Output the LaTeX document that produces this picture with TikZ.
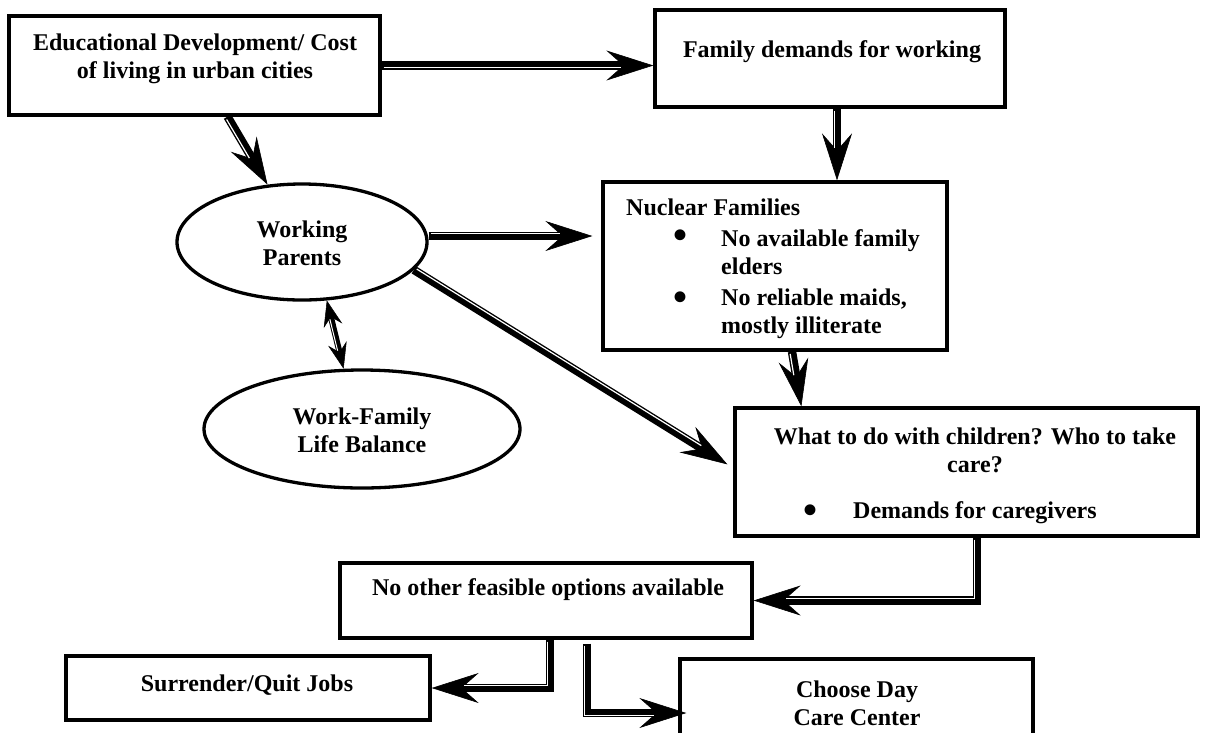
\documentclass[tikz,border=0pt]{standalone}
\usepackage{fontspec}
\setmainfont{Liberation Serif}
\usetikzlibrary{arrows.meta,shapes.geometric,calc}
\newcommand{\bigbul}{{\fontsize{40}{28}\selectfont\textbullet}}
\begin{document}
\begin{tikzpicture}[x=1pt,y=-1pt,
  box/.style={draw, line width=3.3pt, rectangle, inner sep=0pt},
  oval/.style={draw, line width=3.3pt, ellipse, inner sep=0pt},
  txt/.style={font=\fontsize{24}{28}\selectfont\bfseries, align=center, inner sep=0pt},
  dar/.style={line width=8.4pt, -{Stealth[length=47pt,width=30pt,inset=17pt,line width=0.6pt]}},
  sar/.style={line width=6pt, {Stealth[length=26pt,width=19pt,inset=9pt,line width=0.5pt]}-{Stealth[length=26pt,width=19pt,inset=9pt,line width=0.5pt]}},
  gap/.style={white, line width=1.2pt, shorten >=32pt, shorten <=2pt},
  sgap/.style={white, line width=1pt, shorten >=19pt, shorten <=19pt}]
\useasboundingbox (0,0) rectangle (1207,732);
\clip (0,0) rectangle (1207,732);

% boxes
\node[box, minimum width=371pt, minimum height=99pt] (b1) at (194.5,65.5) {};
\node[box, minimum width=350pt, minimum height=97pt] (b2) at (830,58.5) {};
\node[box, minimum width=344pt, minimum height=168pt] (b3) at (775,266) {};
\node[box, minimum width=463pt, minimum height=128pt] (b4) at (966.5,472) {};
\node[box, minimum width=412pt, minimum height=75pt] (b5) at (546,600.5) {};
\node[box, minimum width=364pt, minimum height=64pt] (b6) at (248,688) {};
\node[box, minimum width=353pt, minimum height=108pt] (b7) at (856.5,713) {};
\node[oval, minimum width=250pt, minimum height=116pt] (e1) at (302,242) {};
\node[oval, minimum width=316pt, minimum height=118pt] (e2) at (362,429) {};

% texts
\node[txt] (t1) at (195,59) {Educational Development/ Cost\\of living in urban cities};
\node[txt] (t2) at (832,52) {Family demands for working};
\node[txt, anchor=west] (t3) at (626,207) {Nuclear Families};
\node[txt] (t3b1) at (680,239) {\bigbul};
\node[txt, anchor=west, align=left] (t3i1) at (721,252) {No available family\\elders};
\node[txt] (t3b2) at (680,301) {\bigbul};
\node[txt, anchor=west, align=left] (t3i2) at (721,314) {No reliable maids,\\mostly illiterate};
\node[txt] (t4) at (975,450) {What to do with children? Who to take\\care?};
\node[txt] (t4b) at (810,514) {\bigbul};
\node[txt, anchor=west] (t4i) at (853,513) {Demands for caregivers};
\node[txt] (t5) at (548,590) {No other feasible options available};
\node[txt] (t6) at (247,685) {Surrender/Quit Jobs};
\node[txt] (t7) at (857,703) {Choose Day\\Care Center};
\node[txt] (te1) at (302,243) {Working\\Parents};
\node[txt] (te2) at (362,430) {Work-Family\\Life Balance};

% A1
\coordinate (a1s) at (b1.east);
\coordinate (a1e) at (a1s -| b2.west);
\draw[dar] (a1s) -- (a1e);
\draw[gap] ($(a1s)!2.2pt!-90:(a1e)$) -- ($(a1e)!2.2pt!90:(a1s)$);
% A2
\coordinate (a2s) at ([xshift=7pt]b2.south);
\coordinate (a2e) at (a2s |- b3.north);
\draw[dar] (a2s) -- (a2e);
\draw[gap] ($(a2s)!2.2pt!-90:(a2e)$) -- ($(a2e)!2.2pt!90:(a2s)$);
% A3
\coordinate (a3s) at ([xshift=33pt]b1.south);
\coordinate (a3e) at (e1.121);
\draw[dar] (a3s) -- (a3e);
\draw[gap] ($(a3s)!2.2pt!-90:(a3e)$) -- ($(a3e)!2.2pt!90:(a3s)$);
% A4
\coordinate (a4s) at ([yshift=6pt]e1.east);
\coordinate (a4x) at (a4s -| b3.west);
\coordinate (a4e) at ([xshift=-9pt]a4x);
\draw[dar] (a4s) -- (a4e);
\draw[gap] ($(a4s)!2.2pt!90:(a4e)$) -- ($(a4e)!2.2pt!-90:(a4s)$);
% A5
\coordinate (a5s) at (e1.-14);
\coordinate (a5e) at ([xshift=-6pt,yshift=-58pt]b4.north west);
\draw[dar] (a5s) -- (a5e);
\draw[gap] ($(a5s)!2.2pt!90:(a5e)$) -- ($(a5e)!2.2pt!-90:(a5s)$);
% A6
\coordinate (a6s) at (e1.-67);
\coordinate (a6e) at (e2.107);
\draw[sar] (a6s) -- (a6e);
\draw[sgap] ($(a6s)!1.5pt!-90:(a6e)$) -- ($(a6e)!1.5pt!90:(a6s)$);
% A7
\coordinate (a7s) at ([xshift=17pt]b3.south);
\coordinate (a7e) at ([xshift=68pt]b4.north west);
\draw[dar] (a7s) -- (a7e);
\draw[gap] ($(a7s)!2.2pt!-90:(a7e)$) -- ($(a7e)!2.2pt!90:(a7s)$);
% A8
\coordinate (a8s) at ([xshift=10.5pt]b4.south);
\draw[dar] (a8s) |- (b5.east);
\draw[gap] ([xshift=-2.2pt]a8s) |- ([yshift=2.2pt]b5.east);
% A9
\coordinate (a9s) at ([xshift=4pt]b5.south);
\draw[dar] (a9s) |- (b6.east);
\draw[gap] ([xshift=-2.2pt]a9s) |- ([yshift=2.2pt]b6.east);
% A10
\coordinate (a10s) at ([xshift=41pt,yshift=-4pt]b5.south);
\coordinate (a10e) at ([xshift=8pt]b7.west);
\draw[dar] (a10s) |- (a10e);
\draw[gap] ([xshift=-2.2pt]a10s) |- ([yshift=-2.2pt]a10e);
\end{tikzpicture}
\end{document}
